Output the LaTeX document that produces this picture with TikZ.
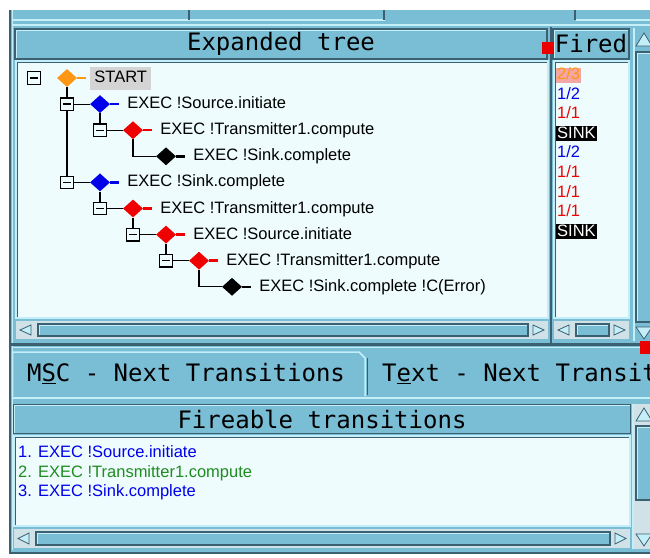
\documentclass[tikz,border=0pt]{standalone}
\usepackage{fontspec}
\setmainfont{Liberation Sans}
\newfontfamily\guimono{DejaVu Sans Mono}
\usetikzlibrary{positioning,shapes.geometric}
\definecolor{guiblue}{RGB}{122,190,214}
\definecolor{guidark}{RGB}{58,96,114}
\definecolor{guilight}{RGB}{196,238,248}
\definecolor{paper}{RGB}{238,252,253}
\definecolor{trough}{RGB}{208,226,232}
\definecolor{hilite}{RGB}{212,212,212}
\definecolor{firedpink}{RGB}{242,166,166}
\definecolor{gemorange}{RGB}{255,150,20}
\definecolor{gemblue}{RGB}{0,0,235}
\definecolor{gemred}{RGB}{240,0,0}
\definecolor{listgreen}{RGB}{30,140,30}
\definecolor{alarm}{RGB}{235,0,0}
\newcommand{\treefont}{\fontsize{16.5}{19}\selectfont}
\newcommand{\headfont}{\guimono\fontsize{24}{28}\selectfont}
\tikzstyle{raised}=[fill=guiblue, draw=guidark, line width=1.5pt, inner sep=0pt, path picture={\draw[guilight, line width=3pt] (path picture bounding box.south west) |- (path picture bounding box.north east);}]
\tikzstyle{sunken}=[fill=paper, draw=guilight, line width=1.5pt, path picture={\draw[guidark, line width=4pt] (path picture bounding box.south west) |- (path picture bounding box.north east);}]
\tikzstyle{minus}=[draw=black, line width=1.3pt, fill=paper, minimum size=12.5pt, inner sep=0pt, path picture={\draw[line width=1.3pt] ([xshift=2.5pt]path picture bounding box.west) -- ([xshift=-2.5pt]path picture bounding box.east);}]
\tikzstyle{treetext}=[inner sep=0pt, font=\treefont, text height=12pt, text depth=3pt]
\tikzstyle{fired}=[anchor=west, inner sep=1pt, font=\treefont, text height=11pt, text depth=2pt]
\tikzstyle{branch}=[line width=1.2pt]
\tikzset{gem/.style={diamond, fill=#1, minimum width=20pt, minimum height=18pt, inner sep=0pt,
    append after command={(\tikzlastnode.east) edge[draw=#1, line width=2.5pt] ++(9pt,0)}}}
\newcommand{\guiscroll}[4]{%
  \fill[trough] (#1,#2) rectangle (#3,#4);
  \draw[raised] ({#1+22},{#2+3}) rectangle ({#3-20},{#4-3});
  \filldraw[guilight, draw=guidark, line width=0.8pt] ({#1+4},{(#2+#4)/2}) -- ({#1+15},{#2+4}) -- ({#1+15},{#4-4}) -- cycle;
  \filldraw[guilight, draw=guidark, line width=0.8pt] ({#3-4},{(#2+#4)/2}) -- ({#3-15},{#2+4}) -- ({#3-15},{#4-4}) -- cycle;}

\begin{document}
\begin{tikzpicture}[x=1pt,y=-1pt]
\useasboundingbox (0,0) rectangle (650,557);
\clip (0,0) rectangle (650,557);
\fill[white] (0,0) rectangle (650,557);
\fill[guiblue] (10,10) rectangle (650,553);
\draw[guidark, line width=2.5pt] (10,10) -- (10,553) -- (650,553);
\draw[guilight, line width=1.5pt] (12.5,10) -- (12.5,550);
% top strip
\draw[guilight, line width=1.5pt] (12,20) -- (385,20) (576,20) -- (650,20);
\draw[guilight, line width=1.5pt] (12,25) -- (650,25);
\draw[guidark, line width=1.5pt] (189,10) -- (189,20) (384,10) -- (384,20) (575,10) -- (575,20);

% upper panes
\draw[sunken] (16,61) rectangle (548,318);
\draw[sunken] (554,61) rectangle (629,318);
\node (treehead) [raised, minimum width=532pt, minimum height=30pt, font=\headfont] at (281,44) {Expanded tree};
\node (firedhead) [raised, minimum width=76pt, minimum height=30pt, font=\headfont] at (591,44) {Fired};
\draw[guidark, line width=2pt] (550.5,27) -- (550.5,343);
\fill[alarm] (542,42) rectangle (554,54);
\guiscroll{16}{321}{548}{339}
\guiscroll{554}{321}{629}{339}
\fill[guiblue] (633,28) rectangle (650,341);
\draw[guilight, line width=1.5pt] (634,28) -- (634,341);
\filldraw[guilight, draw=guidark, line width=0.8pt] (636,46) -- (644,33) -- (652,46) -- cycle;
\draw[raised] (636,52) rectangle (653,322);
\filldraw[guilight, draw=guidark, line width=0.8pt] (636,327) -- (652,327) -- (644,339) -- cycle;
\draw[guidark, line width=2.5pt] (10,344.5) -- (650,344.5);
\draw[guilight, line width=1pt] (12,347) -- (650,347);
\fill[alarm] (640,341) rectangle (650,354);

% tree
\node (b0) [minus] at (34,78) {};
\node (d0) [gem=gemorange] at (67,78) {};
\node (t0) [treetext, right=13pt of d0, fill=hilite, inner sep=4pt] {START};
\node (b1) [minus] at (67,104.1) {};
\node (d1) [gem=gemblue] at (100,104.1) {};
\node (t1) [treetext, right=17pt of d1] {EXEC !Source.initiate};
\node (b2) [minus] at (100,130.2) {};
\node (d2) [gem=gemred] at (133,130.2) {};
\node (t2) [treetext, right=17pt of d2] {EXEC !Transmitter1.compute};
\node (d3) [gem=black] at (166,156.3) {};
\node (t3) [treetext, right=17pt of d3] {EXEC !Sink.complete};
\node (b4) [minus] at (67,182.4) {};
\node (d4) [gem=gemblue] at (100,182.4) {};
\node (t4) [treetext, right=17pt of d4] {EXEC !Sink.complete};
\node (b5) [minus] at (100,208.5) {};
\node (d5) [gem=gemred] at (133,208.5) {};
\node (t5) [treetext, right=17pt of d5] {EXEC !Transmitter1.compute};
\node (b6) [minus] at (133,234.6) {};
\node (d6) [gem=gemred] at (166,234.6) {};
\node (t6) [treetext, right=17pt of d6] {EXEC !Source.initiate};
\node (b7) [minus] at (166,260.7) {};
\node (d7) [gem=gemred] at (199,260.7) {};
\node (t7) [treetext, right=17pt of d7] {EXEC !Transmitter1.compute};
\node (d8) [gem=black] at (232,286.8) {};
\node (t8) [treetext, right=17pt of d8] {EXEC !Sink.complete !C(Error)};

\draw[branch] (d0.south) -- (b1.north);
\draw[branch] (b1.south) -- (b4.north);
\draw[branch] (d1.south) -- (b2.north);
\draw[branch] (d2.south) |- (d3.west);
\draw[branch] (d4.south) -- (b5.north);
\draw[branch] (d5.south) -- (b6.north);
\draw[branch] (d6.south) -- (b7.north);
\draw[branch] (d7.south) |- (d8.west);
\draw[branch] (b1.east) -- (d1.west);
\draw[branch] (b2.east) -- (d2.west);
\draw[branch] (b4.east) -- (d4.west);
\draw[branch] (b5.east) -- (d5.west);
\draw[branch] (b6.east) -- (d6.west);
\draw[branch] (b7.east) -- (d7.west);

% fired counts
\node (f0) [fired, fill=firedpink, text=gemorange] at (556,75) {2/3};
\node (f1) [fired, text=gemblue] at (556,94.6) {1/2};
\node (f2) [fired, text=gemred] at (556,114.2) {1/1};
\node (f3) [fired, fill=black, text=white] at (556,133.8) {SINK};
\node (f4) [fired, text=gemblue] at (556,153.4) {1/2};
\node (f5) [fired, text=gemred] at (556,173) {1/1};
\node (f6) [fired, text=gemred] at (556,192.6) {1/1};
\node (f7) [fired, text=gemred] at (556,212.2) {1/1};
\node (f8) [fired, fill=black, text=white] at (556,231.8) {SINK};

% tabs
\draw[guilight, line width=1.5pt] (12.5,396) -- (12.5,352) -- (359,352) -- (365,358) -- (365,396);
\draw[guidark, line width=1pt] (367,358) -- (367,395);
\draw[guilight, line width=1.5pt] (12,398) -- (650,398);
\node (msctab) [font=\headfont] at (186,374) {M\underline{S}C - Next Transitions};
\node (txttab) [font=\headfont, anchor=west, inner sep=0pt] at (382,374) {T\underline{e}xt - Next Transit};

% lower pane
\node (firehead) [raised, minimum width=617pt, minimum height=29pt, font=\headfont] at (322,419) {Fireable transitions};
\draw[sunken] (14,436) rectangle (630,526);
\node (n1) [fired, text=gemblue] at (17,453) {1. EXEC !Source.initiate};
\node (n2) [fired, text=listgreen] at (17,472.5) {2. EXEC !Transmitter1.compute};
\node (n3) [fired, text=gemblue] at (17,492) {3. EXEC !Sink.complete};
\guiscroll{14}{529}{630}{548}
\fill[trough] (632,404) rectangle (650,549);
\draw[guilight, line width=1.5pt] (633,404) -- (633,549);
\filldraw[guilight, draw=guidark, line width=0.8pt] (636,421) -- (644,408) -- (652,421) -- cycle;
\draw[raised] (636,426) rectangle (653,500);
\filldraw[guilight, draw=guidark, line width=0.8pt] (636,534) -- (652,534) -- (644,546) -- cycle;
\end{tikzpicture}
\end{document}
